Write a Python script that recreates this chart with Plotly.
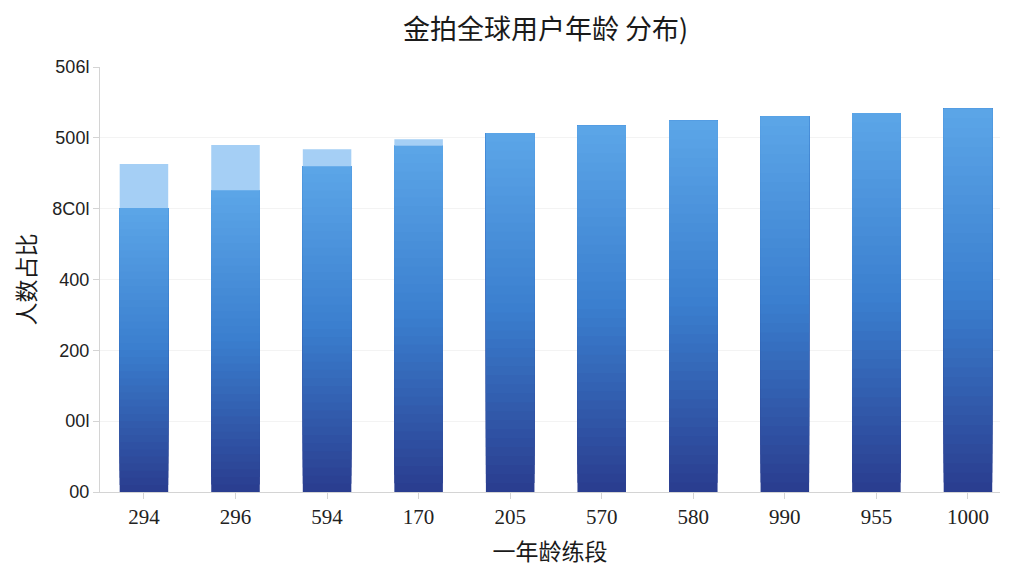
import plotly.graph_objects as go

# age groups (labels as shown on the chart)
age_groups = ["294", "296", "594", "170", "205", "570", "580", "990", "955", "1000"]
base_values = [401, 426, 460, 489, 507, 517, 524, 530, 535, 541]
extra_values = [62, 64, 24, 9, 0, 0, 0, 0, 0, 0]

y_tickvals = [0, 100, 200, 300, 400, 500, 600]
y_ticktext = ["00", "00l", "200", "400", "8C0l", "500l", "506l"]

# vertical gradient for the main bars: dark navy at bottom -> light blue at top
bottom_rgb = (42, 60, 142)
mid_rgb = (58, 126, 206)
top_rgb = (92, 166, 232)
n_steps = 40


def grad_color(t):
    if t < 0.5:
        a, b, f = bottom_rgb, mid_rgb, t / 0.5
    else:
        a, b, f = mid_rgb, top_rgb, (t - 0.5) / 0.5
    c = [round(a[i] + (b[i] - a[i]) * f) for i in range(3)]
    return "rgb(%d,%d,%d)" % tuple(c)


fig = go.Figure()

# each layer starts a bit higher and runs to the top of the bar,
# so later layers cover the earlier ones without seams
for k in range(n_steps):
    fig.add_trace(go.Bar(
        x=age_groups,
        y=[v * (n_steps - k) / n_steps for v in base_values],
        base=[v * k / n_steps for v in base_values],
        marker=dict(color=grad_color((k + 0.5) / n_steps), line=dict(width=0)),
        width=0.53,
        showlegend=False,
        hoverinfo="skip",
    ))

fig.add_trace(go.Bar(
    x=age_groups,
    y=extra_values,
    base=base_values,
    marker=dict(color="#a5cff5", line=dict(width=0)),
    width=0.53,
    showlegend=False,
))

fig.update_layout(
    width=1024, height=576,
    barmode="overlay",
    paper_bgcolor="white",
    plot_bgcolor="white",
    margin=dict(l=92, r=32, t=59, b=92),
    title=dict(
        text="金拍全球用户年龄 分布)",
        x=0.525, xanchor="center", y=0.962, yanchor="middle",
        font=dict(family="Noto Sans CJK SC", size=27, color="#1a1a1a"),
    ),
    font=dict(family="Noto Sans CJK SC", color="#222"),
)

fig.update_xaxes(
    type="category",
    range=[-0.48, 9.35],
    showline=True, linecolor="#d4d4d4", linewidth=1,
    ticks="outside", ticklen=6, tickcolor="#d4d4d4",
    tickfont=dict(family="Liberation Serif", size=21, color="#222"),
    showgrid=False,
    title=dict(text="一年龄练段", standoff=15,
               font=dict(family="Noto Sans CJK SC", size=23, color="#1a1a1a")),
)

fig.update_yaxes(
    range=[0, 600],
    tickvals=y_tickvals, ticktext=y_ticktext,
    showline=True, linecolor="#d4d4d4", linewidth=1,
    ticks="outside", ticklen=6, tickcolor="#d4d4d4",
    tickfont=dict(family="Liberation Sans", size=18, color="#222"),
    showgrid=True, gridcolor="#f3f3f3",
    zeroline=False,
    title=dict(text="人数占比", standoff=10,
               font=dict(family="Noto Sans CJK SC", size=23, color="#1a1a1a")),
)

fig.write_html("out.html")
